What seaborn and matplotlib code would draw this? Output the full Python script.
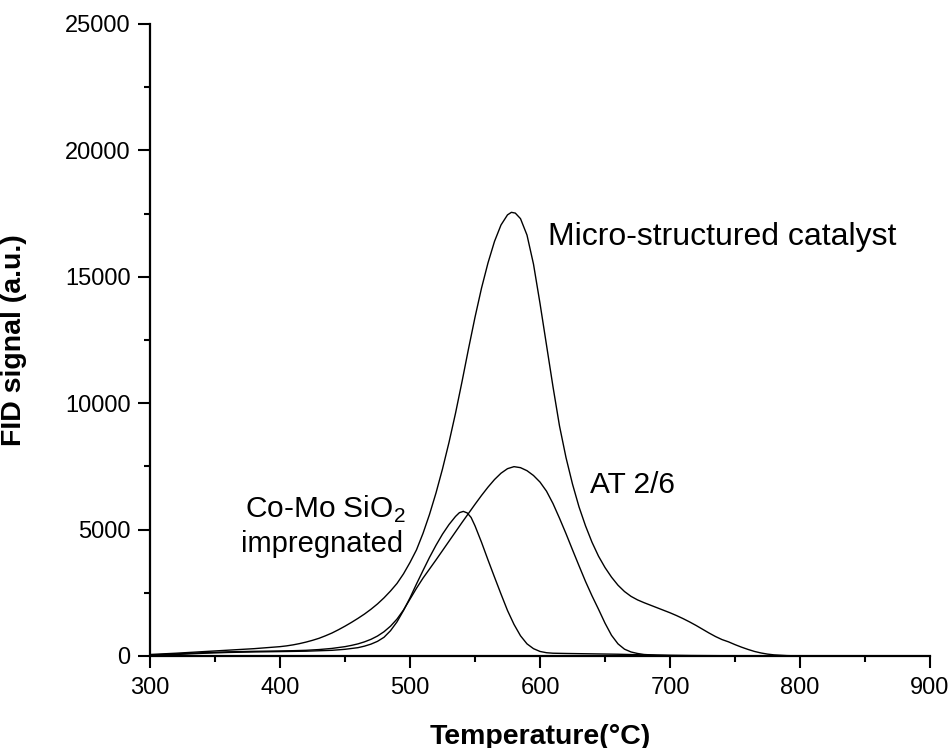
import matplotlib
matplotlib.use("Agg")
import matplotlib.pyplot as plt
from matplotlib.ticker import MultipleLocator
import seaborn as sns
import pandas as pd

# ---- data ----
micro_T = [300, 320, 340, 360, 380, 400, 405, 410, 415, 420, 425, 430, 435, 440, 445,
           450, 455, 460, 465, 470, 475, 480, 485, 490, 495, 500, 505, 510, 515, 520,
           525, 530, 535, 540, 545, 550, 555, 560, 565, 570, 575, 578, 581, 585, 590,
           595, 600, 605, 610, 615, 620, 625, 630, 635, 640, 645, 650, 655, 660, 665,
           670, 675, 680, 685, 690, 695, 700, 705, 710, 715, 720, 725, 730, 735, 740,
           745, 750, 755, 760, 765, 770, 775, 780, 790, 800, 820, 850, 900]
micro_v = [60, 110, 170, 230, 290, 370, 400, 440, 490, 550, 620, 700, 800, 910, 1040,
           1180, 1330, 1490, 1660, 1850, 2060, 2300, 2570, 2870, 3250, 3700, 4200, 4850, 5600, 6450,
           7400, 8450, 9600, 10850, 12150, 13400, 14550, 15550, 16400, 17050, 17450, 17550, 17520, 17300, 16650,
           15500, 13950, 12300, 10650, 9100, 7850, 6800, 5900, 5150, 4500, 3950, 3500, 3120, 2800, 2550,
           2360, 2220, 2110, 2010, 1910, 1810, 1710, 1600, 1480, 1350, 1210, 1060, 910, 770, 650,
           560, 450, 350, 260, 180, 120, 75, 45, 15, 3, 0, 0, 0]

at_T = [300, 320, 340, 360, 380, 400, 410, 420, 430, 440, 450, 455, 460, 465, 470,
        475, 480, 485, 490, 495, 500, 505, 510, 515, 520, 525, 530, 535, 540, 545,
        550, 555, 560, 565, 570, 575, 580, 585, 590, 595, 600, 605, 610, 615, 620,
        625, 630, 635, 640, 645, 650, 655, 660, 665, 670, 675, 680, 690, 700, 720,
        760, 800, 900]
at_v = [40, 80, 130, 165, 185, 200, 210, 225, 255, 300, 370, 420, 480, 560, 660,
        790, 960, 1180, 1460, 1820, 2250, 2680, 3080, 3440, 3800, 4170, 4540, 4910, 5280, 5640,
        6000, 6350, 6680, 6980, 7230, 7410, 7490, 7450, 7330, 7140, 6880, 6520, 6030, 5450, 4840,
        4200, 3570, 2950, 2380, 1850, 1300, 820, 480, 270, 160, 100, 60, 30, 20, 10,
        5, 0, 0]

como_T = [300, 320, 340, 360, 380, 400, 420, 440, 450, 460, 465, 470, 475, 480, 485,
          490, 495, 500, 505, 510, 515, 520, 525, 530, 535, 538, 541, 544, 547, 550,
          555, 560, 565, 570, 575, 580, 585, 590, 595, 600, 605, 610, 620, 640, 660,
          680, 700, 750, 800, 900]
como_v = [30, 60, 105, 140, 160, 175, 190, 225, 265, 330, 390, 470, 580, 740, 1000,
          1350, 1800, 2300, 2850, 3380, 3900, 4380, 4820, 5200, 5520, 5670, 5720, 5660, 5480, 5150,
          4500, 3800, 3120, 2450, 1800, 1250, 800, 480, 290, 180, 130, 110, 100, 85, 70,
          45, 25, 8, 0, 0]

x_ticks = [300, 400, 500, 600, 700, 800, 900]
y_ticks = [0, 5000, 10000, 15000, 20000, 25000]

# ---- figure ----
sns.set_style("ticks")
plt.rcParams['font.family'] = ['Liberation Sans', 'DejaVu Sans']
plt.rcParams['mathtext.fontset'] = 'custom'
plt.rcParams['mathtext.rm'] = 'Liberation Sans'
plt.rcParams['text.color'] = 'black'
plt.rcParams['axes.labelcolor'] = 'black'

fig = plt.figure(figsize=(9.51, 7.48), dpi=100)
ax = fig.add_axes([150/951, 1-656/748, 780/951, 632/748])

df = pd.concat([
    pd.DataFrame({'T': micro_T, 'v': micro_v, 's': 'micro'}),
    pd.DataFrame({'T': at_T, 'v': at_v, 's': 'at'}),
    pd.DataFrame({'T': como_T, 'v': como_v, 's': 'como'}),
])
sns.lineplot(data=df, x='T', y='v', hue='s', palette=['black']*3, sort=False,
             estimator=None, linewidth=1.0, legend=False, ax=ax)

ax.set_xlim(300, 900)
ax.set_ylim(0, 25000)
ax.set_xticks(x_ticks)
ax.set_yticks(y_ticks)
ax.xaxis.set_minor_locator(MultipleLocator(50))
ax.yaxis.set_minor_locator(MultipleLocator(2500))
sns.despine(ax=ax)
for sp in ['left', 'bottom']:
    ax.spines[sp].set_linewidth(1.6)
    ax.spines[sp].set_color('black')
ax.tick_params(which='major', direction='out', length=8.5, width=1.5,
               labelsize=17, color='black', labelcolor='black')
ax.tick_params(axis='x', which='major', pad=6.5)
ax.tick_params(axis='y', which='major', pad=5.5)
ax.tick_params(which='minor', direction='out', length=4.3, width=1.5, color='black')

ax.set_xlabel('Temperature(°C)', fontsize=20.5, fontweight='bold', labelpad=18)
ax.set_ylabel('FID signal (a.u.)', fontsize=20.5, fontweight='bold', labelpad=18)
ax.yaxis.set_label_coords(-(150-27)/780, 0.5)

ax.text(606, 16258, 'Micro-structured catalyst', fontsize=23, ha='left', va='baseline')
ax.text(638.5, 6460, 'AT 2/6', fontsize=21.5, ha='left', va='baseline')
ax.text(373.1, 5447, r'Co-Mo SiO$_2$', fontsize=21.5, ha='left', va='baseline')
ax.text(370, 4126, 'impregnated', fontsize=21, ha='left', va='baseline')

fig.savefig('out.png', dpi=100)
